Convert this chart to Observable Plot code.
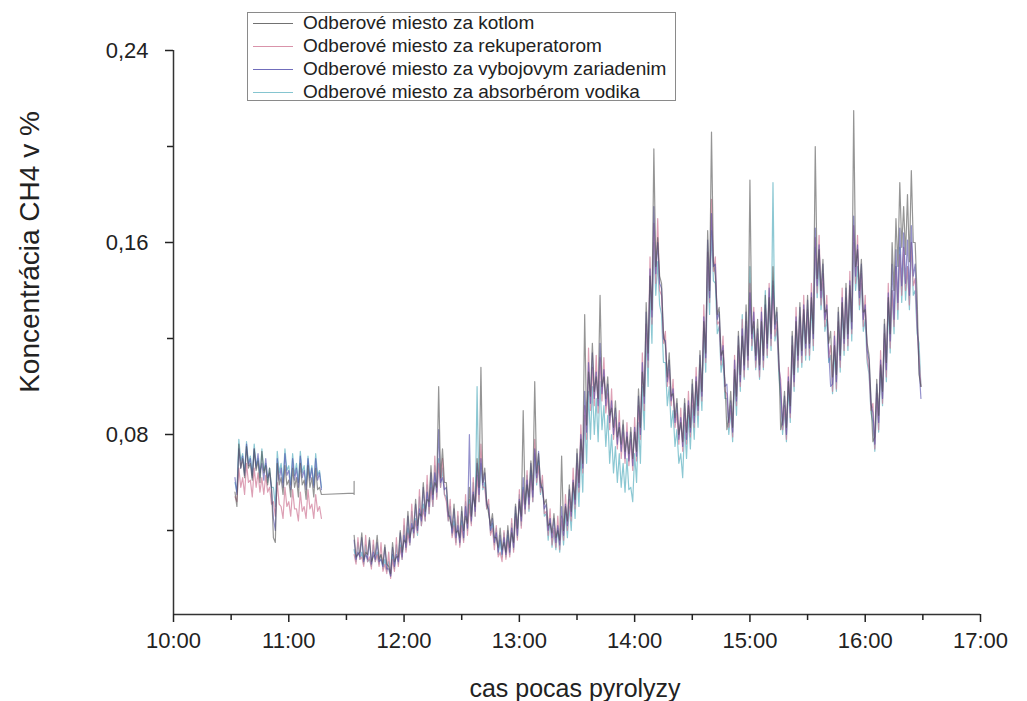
<!DOCTYPE html>
<html><head><meta charset="utf-8">
<script src="https://cdn.jsdelivr.net/npm/d3@7"></script>
<script src="https://cdn.jsdelivr.net/npm/@observablehq/plot@0.6"></script>
<style>
body{margin:0;background:#fff;font-family:"Liberation Sans",Arial,sans-serif;color:#222;}
#wrap{position:relative;width:1027px;height:701px;overflow:hidden;}
#legend{position:absolute;left:247px;top:12px;width:429px;height:89px;border:1px solid #8a8a8a;box-sizing:border-box;background:#fff;}
.row{position:absolute;left:0;height:22px;display:flex;align-items:center;font-size:19px;white-space:nowrap;}
.row span.sw{display:inline-block;width:40px;height:0;border-top:1.5px solid;margin-left:5px;margin-right:10px;opacity:0.8;}
#ytitle{position:absolute;left:30px;top:252px;transform:translate(-50%,-50%) rotate(-90deg);font-size:28px;white-space:nowrap;}
#xtitle{position:absolute;left:575px;top:688px;transform:translate(-50%,-50%);font-size:25px;white-space:nowrap;}
</style></head><body><div id="wrap"></div>
<script>
// series names and colours
const seriesNames = ["Odberové miesto za kotlom","Odberové miesto za rekuperatorom","Odberové miesto za vybojovym zariadenim","Odberové miesto za absorbérom vodika"];
const seriesColors = ["#4e4e4e","#cf7895","#4c48aa","#66b6c4"];

// sampling grids (minutes after 10:00); each slot holds a high reading at t and a low reading at t+1
const seg1Times = d3.range(32, 77, 2);
const seg2Times = d3.range(94, 389, 2);
const kotlomBridgeT = [94, 94, 94];
const kotlomBridgeV = [0.0556, 0.0605, 0.0550];

// segment 1 (10:32 – 11:16): high and low readings
const kotlom1 = [.056,.076,.070,.075,.068,.074,.069,.073,.067,.066,.037,.068,.062,.067,.061,.066,.062,.068,.061,.067,.062,.066,.058];
const kotlom1Lo = [.050,.066,.062,.066,.061,.065,.060,.064,.059,.058,.035,.059,.055,.059,.054,.058,.054,.059,.053,.058,.054,.057,.055];
const rekup1 = [.054,.066,.062,.068,.061,.066,.064,.062,.063,.058,.052,.060,.050,.058,.052,.057,.049,.056,.050,.057,.051,.055,.050];
const rekup1Lo = [.052,.058,.055,.060,.054,.058,.056,.055,.056,.051,.046,.051,.045,.050,.046,.049,.044,.048,.045,.049,.045,.048,.045];
const vyboj1 = [.062,.074,.071,.076,.070,.074,.072,.068,.070,.064,.045,.070,.066,.072,.065,.070,.066,.071,.065,.070,.066,.070,.064];
const vyboj1Lo = [.055,.066,.063,.067,.062,.066,.064,.061,.062,.057,.040,.061,.058,.063,.057,.061,.058,.062,.057,.061,.058,.061,.057];
const absorb1 = [.060,.078,.072,.077,.071,.076,.070,.074,.068,.066,.058,.073,.068,.074,.067,.072,.068,.073,.067,.071,.067,.072,.065];
const absorb1Lo = [.056,.069,.064,.068,.063,.067,.062,.065,.060,.058,.050,.064,.060,.065,.059,.063,.060,.064,.059,.062,.059,.063,.058];

// segment 2 (11:34 – 16:28): high readings
const kotlom2 = [
.038,.030,.039,.031,.037,.029,.038,.030,.034,.025,
.035,.029,.040,.036,.048,.041,.053,.047,.060,.053,
.067,.060,.100,.074,.060,.044,.051,.040,.050,.046,
.058,.055,.070,.108,.066,.047,.047,.037,.041,.035,
.042,.039,.051,.052,.090,.059,.069,.102,.072,.057,
.053,.043,.047,.040,.071,.050,.059,.060,.074,.078,
.130,.106,.118,.104,.138,.104,.104,.091,.094,.083,
.086,.079,.083,.081,.099,.106,.135,.146,.199,.162,
.143,.117,.114,.097,.095,.085,.095,.092,.103,.102,
.115,.127,.165,.206,.146,.133,.115,.082,.098,.107,
.123,.121,.134,.186,.127,.128,.127,.138,.137,.150,
.133,.082,.098,.102,.123,.127,.135,.132,.138,.137,
.200,.157,.153,.132,.123,.117,.133,.135,.143,.142,
.215,.157,.153,.132,.113,.077,.103,.109,.128,.137,
.160,.170,.185,.175,.180,.190,.160,.105];
const rekup2 = [
.030,.037,.029,.038,.029,.036,.030,.035,.026,.031,
.028,.037,.033,.045,.039,.051,.044,.057,.049,.063,
.058,.071,.068,.070,.052,.053,.042,.048,.042,.055,
.051,.062,.063,.076,.058,.053,.041,.042,.031,.040,
.036,.045,.046,.057,.057,.065,.063,.078,.067,.063,
.048,.049,.041,.046,.046,.055,.053,.066,.068,.084,
.092,.116,.108,.113,.112,.112,.097,.099,.087,.090,
.081,.085,.078,.087,.092,.114,.126,.154,.168,.170,
.138,.123,.107,.103,.089,.091,.089,.098,.097,.108,
.109,.134,.156,.178,.154,.127,.121,.097,.092,.113,
.117,.128,.127,.143,.133,.122,.133,.132,.143,.142,
.127,.103,.092,.108,.117,.133,.129,.138,.132,.143,
.162,.163,.147,.138,.117,.123,.127,.141,.137,.148,
.167,.163,.147,.138,.107,.093,.097,.115,.122,.143,
.140,.150,.155,.158,.150,.160,.145,.112];
const vyboj2 = [
.036,.031,.037,.030,.036,.031,.035,.028,.033,.024,
.033,.030,.039,.038,.046,.043,.051,.049,.058,.056,
.064,.064,.082,.062,.058,.046,.049,.042,.048,.050,
.080,.056,.068,.070,.064,.049,.045,.039,.038,.037,
.040,.041,.050,.053,.062,.061,.068,.074,.073,.058,
.051,.045,.045,.042,.050,.051,.057,.061,.072,.080,
.098,.110,.114,.106,.118,.107,.101,.094,.091,.085,
.084,.081,.081,.083,.096,.110,.131,.149,.175,.160,
.141,.119,.111,.099,.093,.087,.093,.094,.101,.104,
.113,.129,.161,.172,.151,.131,.117,.101,.094,.111,
.121,.124,.131,.139,.131,.124,.131,.134,.141,.144,
.131,.099,.096,.104,.121,.129,.133,.134,.136,.139,
.166,.159,.151,.134,.100,.121,.131,.137,.141,.144,
.171,.159,.151,.134,.111,.089,.101,.111,.126,.139,
.151,.157,.166,.164,.161,.167,.151,.108];
const absorb2 = [
.032,.035,.031,.034,.028,.034,.031,.030,.028,.027,
.030,.034,.034,.042,.041,.048,.045,.054,.051,.059,
.060,.067,.070,.066,.054,.050,.044,.046,.044,.052,
.053,.060,.100,.068,.060,.051,.043,.041,.036,.039,
.038,.043,.047,.055,.058,.063,.065,.072,.069,.061,
.047,.045,.040,.041,.044,.047,.050,.058,.064,.072,
.088,.098,.100,.095,.102,.092,.088,.080,.075,.072,
.068,.070,.058,.072,.085,.100,.122,.140,.160,.152,
.130,.110,.100,.090,.082,.072,.084,.088,.092,.098,
.105,.124,.150,.165,.143,.125,.112,.095,.090,.104,
.115,.130,.125,.150,.125,.120,.128,.140,.135,.185,
.124,.095,.090,.100,.115,.125,.128,.130,.131,.135,
.158,.152,.143,.128,.113,.115,.125,.133,.135,.140,
.160,.150,.143,.128,.105,.085,.095,.108,.120,.135,
.140,.150,.158,.155,.150,.160,.140,.118];

// segment 2: low readings
const kotlom2Lo = [
.029,.031,.028,.030,.027,.030,.028,.026,.026,.022,
.027,.029,.031,.035,.037,.041,.042,.046,.048,.052,
.055,.058,.062,.060,.048,.041,.039,.037,.040,.043,
.046,.050,.058,.060,.052,.042,.037,.033,.032,.031,
.033,.035,.041,.046,.051,.054,.057,.064,.060,.051,
.042,.039,.037,.036,.040,.044,.048,.053,.060,.068,
.084,.096,.098,.095,.100,.095,.088,.083,.079,.076,
.073,.072,.070,.073,.083,.096,.114,.132,.150,.146,
.122,.104,.096,.087,.080,.077,.081,.083,.088,.092,
.098,.114,.140,.152,.130,.113,.102,.087,.083,.096,
.105,.109,.113,.122,.113,.109,.113,.118,.122,.126,
.113,.086,.083,.092,.105,.113,.115,.118,.118,.122,
.145,.140,.131,.118,.104,.105,.113,.120,.122,.127,
.150,.140,.131,.118,.095,.079,.088,.098,.110,.122,
.140,.150,.158,.155,.152,.160,.138,.100];
const rekup2Lo = [
.026,.028,.025,.027,.024,.027,.025,.023,.022,.020,
.023,.025,.028,.031,.034,.037,.039,.042,.044,.047,
.050,.053,.058,.055,.044,.037,.034,.033,.035,.038,
.042,.046,.052,.058,.049,.038,.032,.029,.027,.028,
.029,.031,.036,.041,.047,.049,.052,.060,.056,.047,
.038,.034,.033,.032,.036,.040,.044,.049,.056,.064,
.078,.090,.092,.089,.094,.089,.082,.078,.074,.070,
.068,.067,.065,.069,.078,.090,.108,.126,.143,.140,
.118,.100,.092,.083,.076,.073,.076,.079,.083,.088,
.094,.110,.135,.148,.126,.109,.098,.083,.079,.092,
.100,.104,.108,.117,.108,.104,.108,.113,.117,.121,
.108,.082,.078,.087,.100,.108,.110,.113,.113,.117,
.139,.134,.125,.112,.098,.099,.108,.115,.117,.122,
.143,.134,.125,.112,.090,.074,.082,.093,.104,.116,
.125,.132,.138,.140,.134,.142,.125,.100];
const vyboj2Lo = [
.028,.029,.027,.028,.026,.028,.027,.025,.024,.021,
.025,.027,.029,.033,.035,.039,.040,.044,.046,.050,
.053,.056,.060,.057,.046,.039,.037,.035,.037,.041,
.044,.048,.055,.059,.051,.040,.035,.031,.030,.030,
.031,.033,.038,.044,.049,.051,.054,.062,.058,.049,
.040,.037,.035,.034,.038,.042,.046,.051,.058,.066,
.081,.093,.095,.092,.097,.092,.085,.080,.076,.073,
.070,.069,.067,.071,.080,.093,.111,.129,.147,.143,
.120,.102,.094,.085,.078,.075,.078,.081,.085,.090,
.096,.112,.137,.150,.128,.111,.100,.085,.081,.094,
.102,.107,.111,.120,.111,.107,.111,.116,.120,.124,
.111,.084,.080,.089,.102,.111,.113,.116,.116,.120,
.142,.137,.128,.115,.101,.102,.111,.118,.120,.124,
.146,.137,.128,.115,.093,.076,.085,.095,.107,.119,
.128,.135,.142,.143,.138,.146,.128,.095];
const absorb2Lo = [
.027,.028,.026,.027,.025,.027,.026,.024,.023,.021,
.024,.026,.028,.032,.034,.037,.038,.042,.044,.047,
.050,.054,.058,.055,.044,.038,.035,.034,.036,.040,
.043,.046,.052,.057,.049,.039,.034,.030,.029,.029,
.030,.032,.037,.042,.047,.048,.052,.059,.055,.046,
.036,.033,.032,.031,.034,.037,.040,.045,.050,.056,
.068,.078,.080,.077,.082,.075,.068,.064,.060,.058,
.056,.057,.052,.060,.068,.082,.100,.118,.138,.134,
.110,.092,.083,.075,.068,.062,.070,.074,.078,.083,
.090,.106,.130,.144,.122,.106,.095,.080,.077,.088,
.098,.103,.107,.115,.107,.103,.107,.112,.115,.119,
.106,.080,.077,.085,.098,.106,.108,.111,.111,.115,
.137,.132,.123,.110,.097,.098,.106,.113,.115,.119,
.140,.132,.123,.110,.089,.073,.081,.092,.102,.114,
.122,.128,.135,.136,.132,.138,.122,.100];

// axis ticks
const xMajor = d3.range(0, 421, 60);
const xMinor = d3.range(30, 421, 60);
const xTickLabels = ["10:00","11:00","12:00","13:00","14:00","15:00","16:00","17:00"];
const yMajor = [0.08, 0.16, 0.24];
const yMinor = [0.04, 0.12, 0.20];
const yTickLabels = ["0,08","0,16","0,24"];
const yMin = 0.005, yMax = 0.24;

function rowsHL(times, hi, lo, z){
  const r = [];
  times.forEach((t, i) => { r.push({t, v: hi[i], z}); r.push({t: t + 1, v: lo[i], z}); });
  return r;
}
const kBridge = kotlomBridgeT.map((t, i) => ({t, v: kotlomBridgeV[i], z: "k1"}));
const data = [
  [rowsHL(seg1Times, absorb1, absorb1Lo, "a1").concat(rowsHL(seg2Times, absorb2, absorb2Lo, "a2")), seriesColors[3], 0.75],
  [rowsHL(seg1Times, rekup1, rekup1Lo, "r1").concat(rowsHL(seg2Times, rekup2, rekup2Lo, "r2")), seriesColors[1], 0.7],
  [rowsHL(seg1Times, vyboj1, vyboj1Lo, "v1").concat(rowsHL(seg2Times, vyboj2, vyboj2Lo, "v2")), seriesColors[2], 0.6],
  [rowsHL(seg1Times, kotlom1, kotlom1Lo, "k1").concat(kBridge, rowsHL(seg2Times, kotlom2, kotlom2Lo, "k2")), seriesColors[0], 0.6]
];

const chart = Plot.plot({
  width: 1027, height: 701,
  marginLeft: 173, marginRight: 47, marginTop: 50, marginBottom: 87,
  style: {fontFamily: '"Liberation Sans", Arial, sans-serif', color: "#222", background: "#fff"},
  x: {domain: [0, 420]},
  y: {domain: [yMin, yMax]},
  marks: [
    ...data.map(([rows, color, op]) => Plot.lineY(rows, {x: "t", y: "v", z: "z", stroke: color, strokeWidth: 1.2, strokeOpacity: op})),
    Plot.ruleX([0], {stroke: "#333", strokeWidth: 1.5}),
    Plot.ruleY([yMin], {stroke: "#333", strokeWidth: 1.5}),
    Plot.axisX({ticks: xMajor, tickFormat: d => xTickLabels[xMajor.indexOf(d)], tickSize: 8, tickPadding: 10, fontSize: 22, label: null, strokeWidth: 1.5}),
    Plot.axisX({ticks: xMinor, tickFormat: () => "", tickSize: 6, label: null, strokeWidth: 1.5}),
    Plot.axisY({ticks: yMajor, tickFormat: d => yTickLabels[yMajor.indexOf(d)], tickSize: 8, tickPadding: 17, fontSize: 22, label: null, strokeWidth: 1.5}),
    Plot.axisY({ticks: yMinor, tickFormat: () => "", tickSize: 6, label: null, strokeWidth: 1.5})
  ]
});
const wrap = document.getElementById("wrap");
wrap.appendChild(chart);

const legend = document.createElement("div");
legend.id = "legend";
seriesNames.forEach((n, i) => {
  const r = document.createElement("div");
  r.className = "row";
  r.style.top = (-1 + i * 23) + "px";
  const sw = document.createElement("span");
  sw.className = "sw";
  sw.style.borderColor = seriesColors[i];
  r.appendChild(sw);
  r.appendChild(document.createTextNode(n));
  legend.appendChild(r);
});
wrap.appendChild(legend);

const yt = document.createElement("div");
yt.id = "ytitle"; yt.textContent = "Koncentrácia CH4 v %";
wrap.appendChild(yt);
const xt = document.createElement("div");
xt.id = "xtitle"; xt.textContent = "cas pocas pyrolyzy";
wrap.appendChild(xt);
</script></body></html>
